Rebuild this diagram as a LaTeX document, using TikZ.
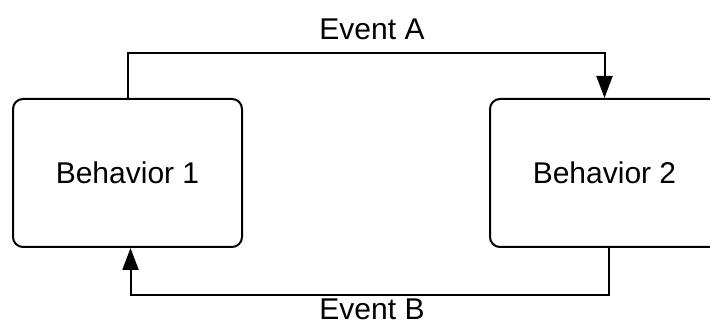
\documentclass[tikz,border=0pt]{standalone}
\usepackage{fontspec}
\setmainfont{Liberation Sans}
\usetikzlibrary{arrows.meta}
\usetikzlibrary{calc}
\usetikzlibrary{positioning}
\tikzset{basic box/.style={draw,rectangle,rounded corners=5pt}}
\tikzset{behavior/.style={basic box,
                          line width=1pt,
                          minimum width=114.5pt,
                          minimum height=74pt,
                          inner sep=0pt,
                          font=\fontsize{15}{18}\selectfont}}
\tikzset{edge/.style={draw,
                      line width=1pt,
                      -{Triangle[length=11pt,width=8pt]}}}
\begin{document}
\begin{tikzpicture}
    [
      x=0.5pt,y=0.5pt,
      event label/.style={font=\fontsize{15}{18}\selectfont,inner sep=0pt},
    ]
    \useasboundingbox (0,0) rectangle (710,324);

    % vertices
    \node [behavior] (B1) at (127.5,151) {Behavior 1};
    \node [behavior] (B2) at (604.5,151) {Behavior 2};

    % edges
    \path [edge] (B1.north) -- ++ (0,45) -- ($(B2.north)+(0,45)$) -- (B2.north);
    \path [edge] ($(B2.south)+(4,0)$) -- ++ (0,-47) -- ($(B1.south)+(3,-47)$) -- ($(B1.south)+(3,0)$);

    % labels
    \node [event label] (EA) at (372,295) {Event A};
    \node [event label] (EB) at (372,14.5) {Event B};

  \end{tikzpicture}
\end{document}
